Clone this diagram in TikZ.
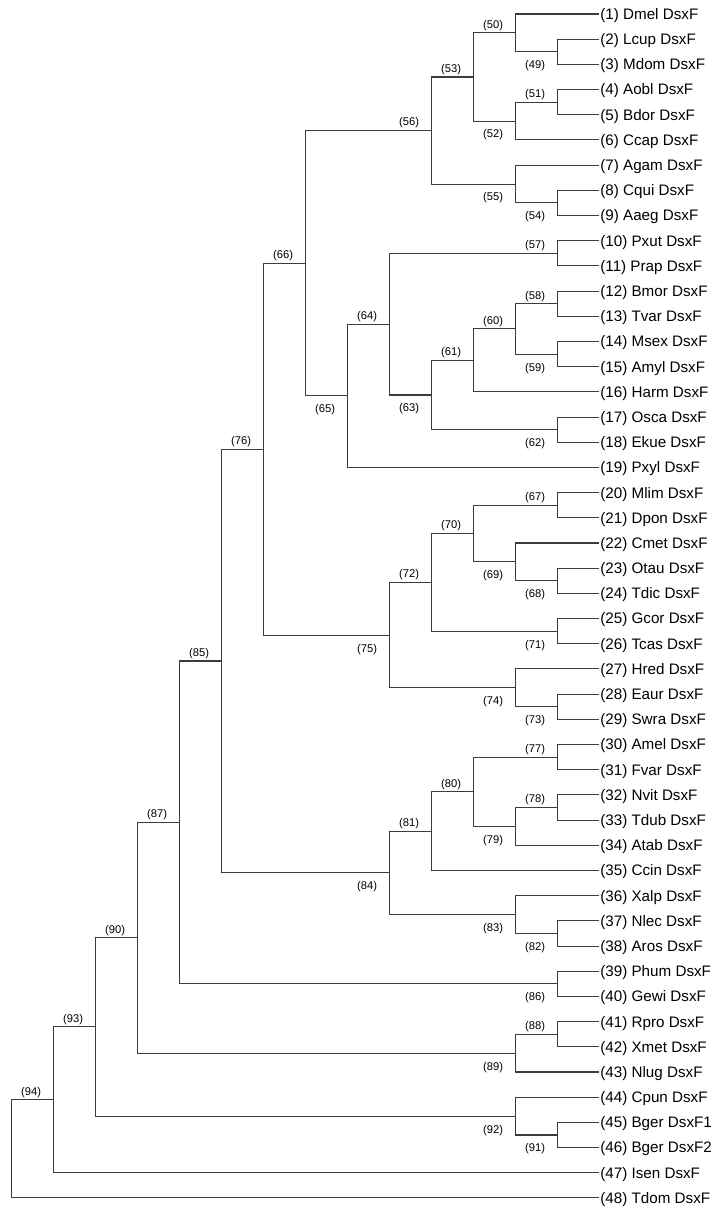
\documentclass[tikz,border=0pt]{standalone}
\usepackage{fontspec}
\setmainfont{Liberation Sans}
\definecolor{brgray}{RGB}{60,60,60}

\begin{document}
\begin{tikzpicture}[x=0.75pt,y=-18.8925pt,
  br/.style={draw=brgray,line width=0.8pt},
  lf/.style={anchor=west,inner xsep=1.2pt,inner ysep=0pt,text height=8.1pt,text depth=0pt,font=\fontsize{11.4}{13}\selectfont},
  nup/.style={anchor=base,inner sep=0pt,xshift=-16.9pt,yshift=3.5pt,font=\fontsize{8.4}{9}\selectfont},
  ndn/.style={anchor=base,inner sep=0pt,xshift=-16.9pt,yshift=-12.7pt,font=\fontsize{8.4}{9}\selectfont}]
  \useasboundingbox (0,0.444) rectangle (717,48.479);

  % leaves
  \foreach \sp [count=\i] in {Dmel DsxF,Lcup DsxF,Mdom DsxF,Aobl DsxF,Bdor DsxF,Ccap DsxF,
    Agam DsxF,Cqui DsxF,Aaeg DsxF,Pxut DsxF,Prap DsxF,Bmor DsxF,Tvar DsxF,Msex DsxF,
    Amyl DsxF,Harm DsxF,Osca DsxF,Ekue DsxF,Pxyl DsxF,Mlim DsxF,Dpon DsxF,Cmet DsxF,
    Otau DsxF,Tdic DsxF,Gcor DsxF,Tcas DsxF,Hred DsxF,Eaur DsxF,Swra DsxF,Amel DsxF,
    Fvar DsxF,Nvit DsxF,Tdub DsxF,Atab DsxF,Ccin DsxF,Xalp DsxF,Nlec DsxF,Aros DsxF,
    Phum DsxF,Gewi DsxF,Rpro DsxF,Xmet DsxF,Nlug DsxF,Cpun DsxF,Bger DsxF1,Bger DsxF2,
    Isen DsxF,Tdom DsxF}
    \node[lf] (l\i) at (598.5,\i) {(\i) \sp};

  % joins
  \coordinate (n49) at (557.7,2.5);
  \coordinate (n50) at (515.7,1.75);
  \coordinate (n51) at (557.7,4.5);
  \coordinate (n52) at (515.7,5.25);
  \coordinate (n53) at (473.7,3.5);
  \coordinate (n54) at (557.7,8.5);
  \coordinate (n55) at (515.7,7.75);
  \coordinate (n56) at (431.7,5.625);
  \coordinate (n57) at (557.7,10.5);
  \coordinate (n58) at (557.7,12.5);
  \coordinate (n59) at (557.7,14.5);
  \coordinate (n60) at (515.7,13.5);
  \coordinate (n61) at (473.7,14.75);
  \coordinate (n62) at (557.7,17.5);
  \coordinate (n63) at (431.7,16.125);
  \coordinate (n64) at (389.7,13.3125);
  \coordinate (n65) at (347.7,16.15625);
  \coordinate (n66) at (305.7,10.890625);
  \coordinate (n67) at (557.7,20.5);
  \coordinate (n68) at (557.7,23.5);
  \coordinate (n69) at (515.7,22.75);
  \coordinate (n70) at (473.7,21.625);
  \coordinate (n71) at (557.7,25.5);
  \coordinate (n72) at (431.7,23.5625);
  \coordinate (n73) at (557.7,28.5);
  \coordinate (n74) at (515.7,27.75);
  \coordinate (n75) at (389.7,25.65625);
  \coordinate (n76) at (263.7,18.27344);
  \coordinate (n77) at (557.7,30.5);
  \coordinate (n78) at (557.7,32.5);
  \coordinate (n79) at (515.7,33.25);
  \coordinate (n80) at (473.7,31.875);
  \coordinate (n81) at (431.7,33.4375);
  \coordinate (n82) at (557.7,37.5);
  \coordinate (n83) at (515.7,36.75);
  \coordinate (n84) at (389.7,35.09375);
  \coordinate (n85) at (221.7,26.68359);
  \coordinate (n86) at (557.7,39.5);
  \coordinate (n87) at (179.7,33.0918);
  \coordinate (n88) at (557.7,41.5);
  \coordinate (n89) at (515.7,42.25);
  \coordinate (n90) at (137.7,37.6709);
  \coordinate (n91) at (557.7,45.5);
  \coordinate (n92) at (515.7,44.75);
  \coordinate (n93) at (95.7,41.2104);
  \coordinate (n94) at (53.7,44.1052);
  \coordinate (n95) at (11.7,46.0526);

  % branches
  \foreach \p/\a/\b in {n49/l2/l3,n50/l1/n49,n51/l4/l5,n52/n51/l6,n53/n50/n52,
    n54/l8/l9,n55/l7/n54,n56/n53/n55,n57/l10/l11,n58/l12/l13,n59/l14/l15,
    n60/n58/n59,n61/n60/l16,n62/l17/l18,n63/n61/n62,n64/n57/n63,n65/n64/l19,
    n66/n56/n65,n67/l20/l21,n68/l23/l24,n69/l22/n68,n70/n67/n69,n71/l25/l26,
    n72/n70/n71,n73/l28/l29,n74/l27/n73,n75/n72/n74,n76/n66/n75,n77/l30/l31,
    n78/l32/l33,n79/n78/l34,n80/n77/n79,n81/n80/l35,n82/l37/l38,n83/l36/n82,
    n84/n81/n83,n85/n76/n84,n86/l39/l40,n87/n85/n86,n88/l41/l42,n89/n88/l43,
    n90/n87/n89,n91/l45/l46,n92/l44/n91,n93/n90/n92,n94/n93/l47,n95/n94/l48}
    \draw[br] (\a) -| (\p) |- (\b);

  % node numbers
  \foreach \n in {50,51,53,56,57,58,60,61,64,66,67,70,72,76,77,78,80,81,85,87,88,90,93,94}
    \node[nup] (t\n) at (n\n) {(\n)};
  \foreach \n in {49,52,54,55,59,62,63,65,68,69,71,73,74,75,79,82,83,84,86,89,91,92}
    \node[ndn] (t\n) at (n\n) {(\n)};
\end{tikzpicture}
\end{document}
